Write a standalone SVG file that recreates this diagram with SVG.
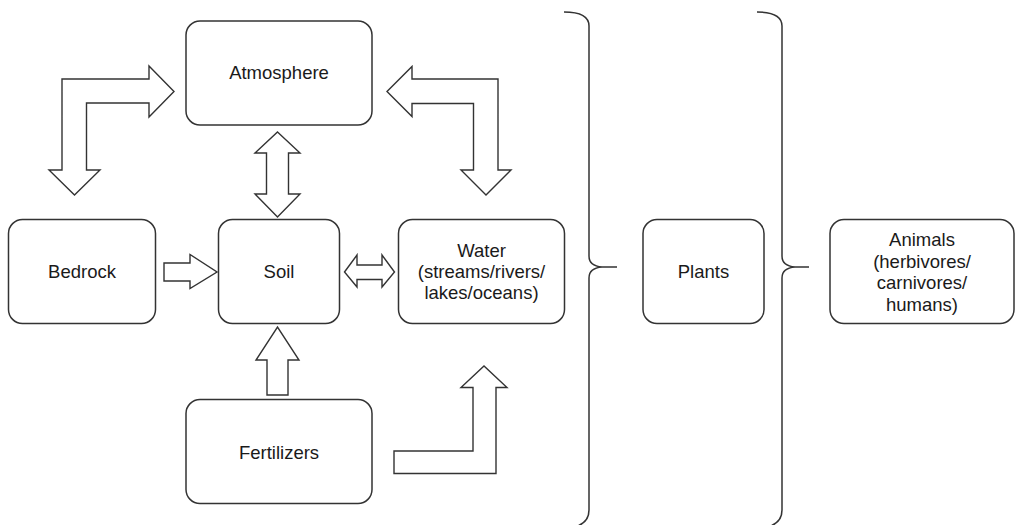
<svg xmlns="http://www.w3.org/2000/svg" width="1017" height="525" viewBox="0 0 1017 525">
<style>
.box{fill:#ffffff;stroke:#333333;stroke-width:1.5}
.arr{fill:#ffffff;stroke:#333333;stroke-width:1.4;stroke-linejoin:miter}
.brace{fill:none;stroke:#333333;stroke-width:1.5}
text{font-family:"Liberation Sans",Arial,sans-serif;font-size:18.5px;fill:#1a1a1a;text-anchor:middle}
</style>
<rect width="1017" height="525" fill="#ffffff"/>
<g id="atmosphere"><rect class="box" x="186" y="21" width="186" height="104" rx="14"/><text x="279" y="79">Atmosphere</text></g>
<g id="bedrock"><rect class="box" x="8.5" y="219.5" width="147" height="104" rx="14"/><text x="82" y="278">Bedrock</text></g>
<g id="soil"><rect class="box" x="218.5" y="219.5" width="121" height="104" rx="14"/><text x="279" y="278">Soil</text></g>
<g id="water"><rect class="box" x="398.5" y="219.5" width="166" height="104" rx="14"/><text x="481.5" y="257">Water</text><text x="481.5" y="278">(streams/rivers/</text><text x="481.5" y="299">lakes/oceans)</text></g>
<g id="fertilizers"><rect class="box" x="186" y="399.5" width="186" height="104" rx="14"/><text x="279" y="459">Fertilizers</text></g>
<g id="plants"><rect class="box" x="643" y="219.5" width="121" height="104" rx="14"/><text x="703.5" y="278">Plants</text></g>
<g id="animals"><rect class="box" x="830" y="219.5" width="184" height="104" rx="14"/><text x="922" y="246">Animals</text><text x="922" y="267.5">(herbivores/</text><text x="922" y="289">carnivores/</text><text x="922" y="310.5">humans)</text></g>
<g id="connectors">
<path class="arr" d="M62,79 L149,79 L149,66 L174,91.5 L149,117 L149,103 L86.5,103 L86.5,170 L100,170 L74.5,195 L49,170 L62,170 Z"/>
<path class="arr" d="M387,91.5 L412,66.5 L412,79 L498,79 L498,170 L511,170 L486,195 L461,170 L473.5,170 L473.5,103.5 L412,103.5 L412,116.5 Z"/>
<path class="arr" d="M277.5,132 L300,153 L288.5,153 L288.5,194 L300,194 L277.5,217 L255,194 L266.5,194 L266.5,153 L255,153 Z"/>
<path class="arr" d="M164,263 L190,263 L190,254.5 L217,272 L190,288.5 L190,281 L164,281 Z"/>
<path class="arr" d="M344.5,272 L357,255 L357,265 L382,265 L382,255 L394.5,272 L382,287 L382,279.5 L357,279.5 L357,287 Z"/>
<path class="arr" d="M267,395 L267,360 L256,360 L277.5,327 L299,360 L288,360 L288,395 Z"/>
<path class="arr" d="M394,451 L473,451 L473,387.5 L461,387.5 L484,366 L507,387.5 L496,387.5 L496,473.5 L394,473.5 Z"/>
<path class="brace" d="M564,12 Q589,12 589,26 L589,256 Q589,266 602,267 L617,267 M602,267 Q589,268 589,278 L589,510 Q589,525 570,528"/>
<path class="brace" d="M757,12 Q782,12 782,26 L782,256 Q782,266 795,267 L809,267 M795,267 Q782,268 782,278 L782,510 Q782,525 763,528"/>
</g>
</svg>
